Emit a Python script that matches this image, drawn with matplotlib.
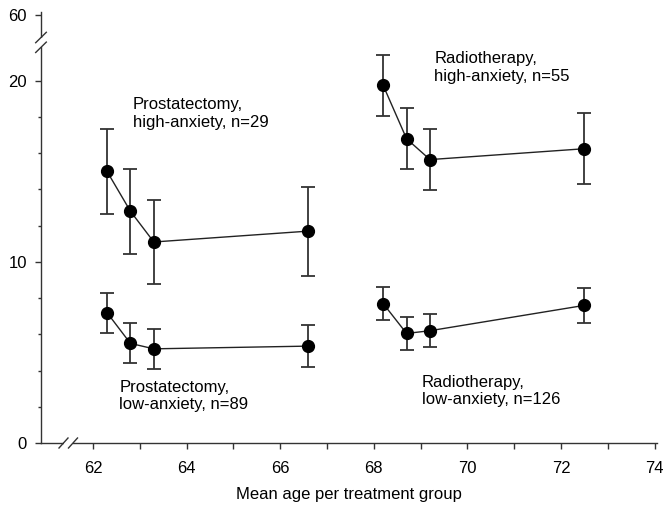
import matplotlib
matplotlib.use('agg')
import matplotlib.pyplot as plt
from matplotlib.patches import Rectangle

plt.rcParams['font.family'] = ['Liberation Sans', 'DejaVu Sans']
plt.rcParams['font.size'] = 12

# data
prost_age = [62.3, 62.8, 63.3, 66.6]
prost_high = [15.0, 12.8, 11.1, 11.7]
prost_high_err = [2.33, 2.34, 2.33, 2.46]
prost_low = [7.2, 5.5, 5.2, 5.35]
prost_low_err = [1.1, 1.1, 1.1, 1.15]

radio_age = [68.2, 68.7, 69.2, 72.5]
radio_high = [19.75, 16.8, 15.65, 16.25]
radio_high_err = [1.67, 1.68, 1.7, 1.96]
radio_low = [7.7, 6.05, 6.2, 7.6]
radio_low_err = [0.9, 0.9, 0.9, 0.97]

x_ticks = [62, 64, 66, 68, 70, 72, 74]
y_ticks = [0, 10, 20]
y_top_label = '60'

labels = [
    ('Prostatectomy,\nhigh-anxiety, n=29', 62.85, 19.1),
    ('Radiotherapy,\nhigh-anxiety, n=55', 69.29, 21.65),
    ('Prostatectomy,\nlow-anxiety, n=89', 62.56, 3.5),
    ('Radiotherapy,\nlow-anxiety, n=126', 69.02, 3.78),
]

fig = plt.figure(figsize=(6.64, 5.14), dpi=100)
ax = fig.add_axes([41 / 664, 1 - 443 / 514, 616 / 664, 431 / 514])

ink = '#222222'
for xs, ys, es in [(prost_age, prost_high, prost_high_err),
                   (prost_age, prost_low, prost_low_err),
                   (radio_age, radio_high, radio_high_err),
                   (radio_age, radio_low, radio_low_err)]:
    ax.errorbar(xs, ys, yerr=es, fmt='none', ecolor='#333333',
                elinewidth=1.3, capsize=5, capthick=1.3, zorder=2)
    ax.plot(xs, ys, '-', color=ink, lw=1.0, marker='o', ms=8.5,
            mfc='black', mec='black', zorder=3)

for txt, x, y in labels:
    ax.text(x, y, txt, ha='left', va='top', fontsize=12, linespacing=1.22)

y_top = 23.8
ax.set_xlim(60.89, 74.05)
ax.set_ylim(0, y_top)

ax.set_xticks(x_ticks)
ax.set_xticks([63, 65, 67, 69, 71, 73], minor=True)
ax.set_yticks(y_ticks + [23.65])
ax.set_yticklabels([str(v) for v in y_ticks] + [y_top_label])
ax.set_yticks([2, 4, 6, 8, 12, 14, 16, 18], minor=True)

for s in ['top', 'right']:
    ax.spines[s].set_visible(False)
for s in ['left', 'bottom']:
    ax.spines[s].set_color('#333333')
    ax.spines[s].set_linewidth(1.0)

ax.tick_params(axis='x', which='both', direction='out', length=4, width=1,
               color='#333333', pad=9)
ax.tick_params(axis='y', which='major', direction='out', length=4, width=1,
               color='#333333', pad=6)
ax.tick_params(axis='y', which='minor', direction='out', length=2.5, width=1,
               color='#333333')

ax.set_xlabel('Mean age per treatment group', fontsize=12, labelpad=8)

# axis break marks
W, H = 616.0, 431.0
# x-axis break
xa, xb = (63.5 - 41) / W, (73 - 41) / W
ax.add_patch(Rectangle((xa, -0.004), xb - xa, 0.008, transform=ax.transAxes,
                       facecolor='white', edgecolor='none', zorder=4,
                       clip_on=False))
dx, dy = 4.5 / W, 5 / H
for xc in (xa, xb):
    ax.plot([xc - dx, xc + dx], [-dy, dy], color='#333333', lw=1,
            transform=ax.transAxes, clip_on=False, zorder=5)
# y-axis break
ya, yb = (443 - 37.5) / H, (443 - 47.3) / H
ax.add_patch(Rectangle((-0.006, yb), 0.012, ya - yb, transform=ax.transAxes,
                       facecolor='white', edgecolor='none', zorder=4,
                       clip_on=False))
dx, dy = 5.3 / W, 5.2 / H
for yc in (ya, yb):
    ax.plot([-dx, dx], [yc - dy, yc + dy], color='#333333', lw=1,
            transform=ax.transAxes, clip_on=False, zorder=5)

fig.savefig('out.png', dpi=100)
